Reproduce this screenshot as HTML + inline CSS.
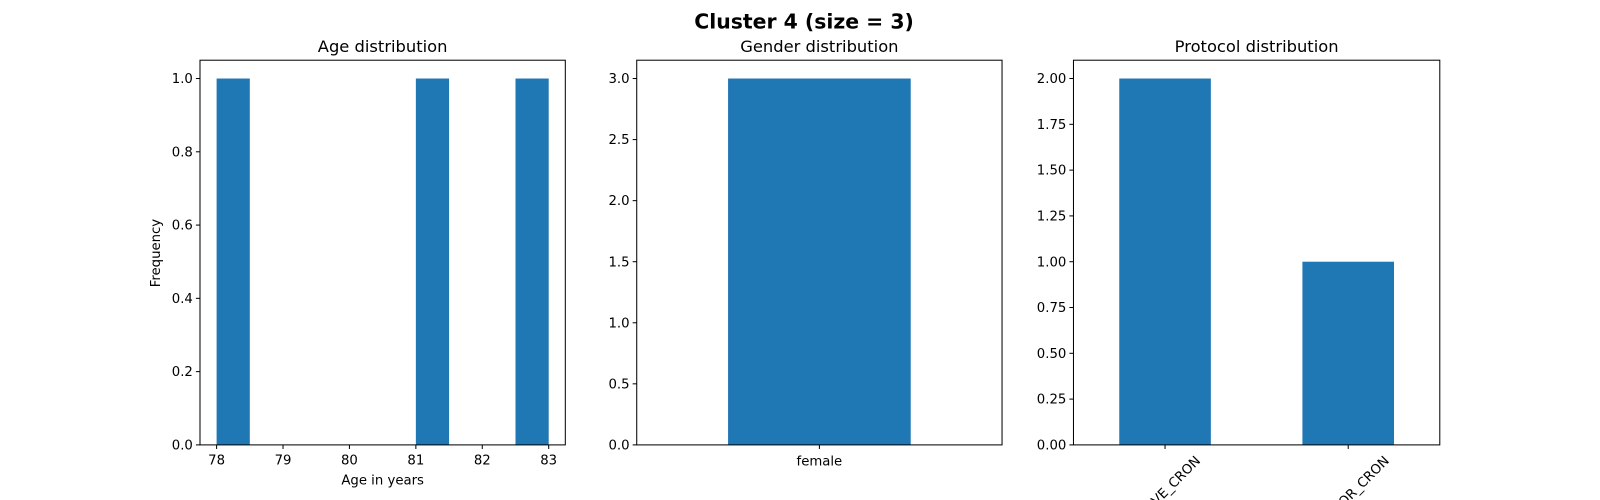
<!DOCTYPE html>
<html><head><meta charset="utf-8">
<style>
html,body{margin:0;background:#fff;width:1600px;height:500px;overflow:hidden;}
svg{display:block;font-family:"DejaVu Sans","Liberation Sans",sans-serif;overflow:hidden;}
</style></head>
<body>
<svg id="chart" width="1600" height="500" viewBox="0 0 1568 490">
<text x="788" y="28" text-anchor="middle" font-size="20" font-weight="bold">Cluster 4 (size = 3)</text>
</svg>
<script>
const ageBinStarts=[78,81,82.5];
const ageCounts=[1,1,1];
const ageTicks=[78,79,80,81,82,83];
const ageYTicks=[0,0.2,0.4,0.6,0.8,1.0];
const genderCats=["female"];
const genderCounts=[3];
const genderYTicks=[0,0.5,1,1.5,2,2.5,3];
const protoCats=["ACTIVE_CRON","MONITOR_CRON"];
const protoCounts=[2,1];
const protoYTicks=[0,0.25,0.5,0.75,1,1.25,1.5,1.75,2];

const svg=document.getElementById('chart');
const NS='http://www.w3.org/2000/svg';
function mk(tag,attrs,parent){const e=document.createElementNS(NS,tag);for(const k in attrs)e.setAttribute(k,attrs[k]);(parent||svg).appendChild(e);return e;}
const topY=59,bot=436,color='#1f77b4';

function panel(x0,x1,xmin,xmax,ymax,yticks,ydec,title,name){
  const g=mk('g',{});
  
  
  const sx=v=>x0+(v-xmin)/(xmax-xmin)*(x1-x0);
  const sy=v=>bot-v/ymax*(bot-topY);
  const t=mk('text',{x:(x0+x1)/2,y:51,'text-anchor':'middle','font-size':16},g);
  t.textContent=title;
  
  
  yticks.forEach(v=>{
    const y=sy(v);
    mk('line',{x1:x0-4,x2:x0,y1:y,y2:y,stroke:'#000'},g);
    const l=mk('text',{x:x0-7,y:y+4.5,'text-anchor':'end','font-size':13},g);
    l.textContent=v.toFixed(ydec);
    
    
  });
  return {g,sx,sy,frame:()=>mk('rect',{x:x0,y:topY,width:x1-x0,height:bot-topY,fill:'none',stroke:'#000','stroke-width':1},g)};
}

// Age
let p=panel(196,554,77.75,83.25,1.05,ageYTicks,1,'Age distribution','age-panel');
ageBinStarts.forEach((b,i)=>{
  const r=mk('rect',{x:p.sx(b),y:p.sy(ageCounts[i]),width:p.sx(b+0.5)-p.sx(b),height:bot-p.sy(ageCounts[i]),fill:color},p.g);
  
  
});
ageTicks.forEach(v=>{
  const x=p.sx(v);
  mk('line',{x1:x,x2:x,y1:bot,y2:bot+4,stroke:'#000'},p.g);
  const l=mk('text',{x:x,y:bot+19,'text-anchor':'middle','font-size':13},p.g);
  l.textContent=v;
  
  
});
p.frame();
let t=mk('text',{x:375,y:475,'text-anchor':'middle','font-size':13},p.g);t.textContent='Age in years';


t=mk('text',{x:157,y:248,'text-anchor':'middle','font-size':13,transform:'rotate(-90 157 248)'},p.g);t.textContent='Frequency';



// Gender
p=panel(624,982,-0.5,0.5,3.15,genderYTicks,1,'Gender distribution','gender-panel');
genderCats.forEach((c,i)=>{
  const r=mk('rect',{x:p.sx(i-0.25),y:p.sy(genderCounts[i]),width:p.sx(i+0.25)-p.sx(i-0.25),height:bot-p.sy(genderCounts[i]),fill:color},p.g);
  
  
  const x=p.sx(i);
  mk('line',{x1:x,x2:x,y1:bot,y2:bot+4,stroke:'#000'},p.g);
  const l=mk('text',{x:x,y:bot+20,'text-anchor':'middle','font-size':13},p.g);
  l.textContent=c;
  
  
});
p.frame();

// Protocol
p=panel(1052,1411,-0.5,1.5,2.1,protoYTicks,2,'Protocol distribution','protocol-panel');
protoCats.forEach((c,i)=>{
  const r=mk('rect',{x:p.sx(i-0.25),y:p.sy(protoCounts[i]),width:p.sx(i+0.25)-p.sx(i-0.25),height:bot-p.sy(protoCounts[i]),fill:color},p.g);
  
  
  const x=p.sx(i);
  mk('line',{x1:x,x2:x,y1:bot,y2:bot+4,stroke:'#000'},p.g);
  const l=mk('text',{x:x,y:0,'text-anchor':'middle','font-size':13},p.g);
  l.textContent=c;
  
  
  const L=l.getComputedTextLength();
  const cy=bot+7+L*0.354+6;
  l.setAttribute('y',cy+4.5);
  l.setAttribute('transform','rotate(-45 '+x+' '+cy+')');
});
p.frame();
</script>
</body></html>
